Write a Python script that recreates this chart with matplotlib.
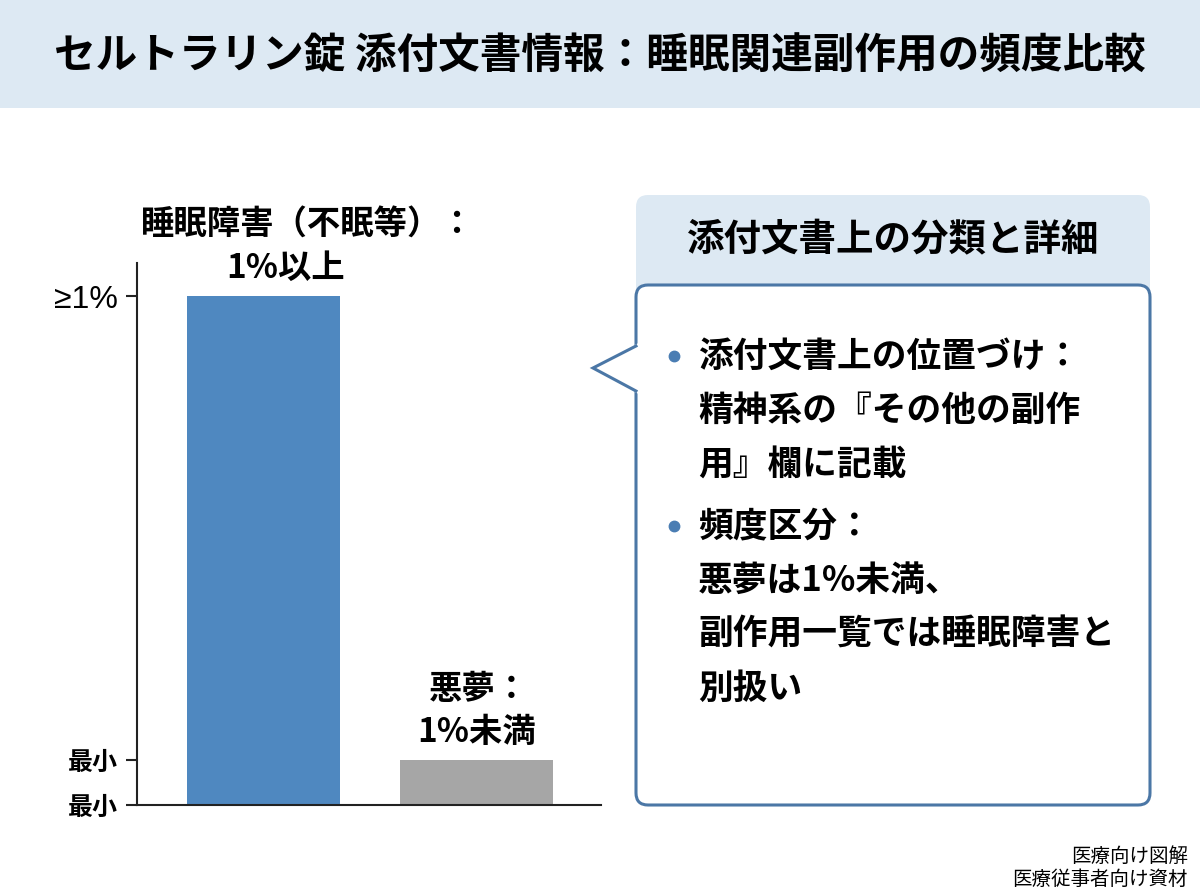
import matplotlib
matplotlib.use('Agg')
import matplotlib.pyplot as plt
from matplotlib.patches import FancyBboxPatch, Rectangle, Polygon

plt.rcParams['font.family'] = ['Noto Sans CJK JP', 'DejaVu Sans']

# --- data (schematic frequency levels) ---
categories = ['睡眠障害（不眠等）', '悪夢']
freq_level = [1.0, 0.088]
label_top = ['睡眠障害（不眠等）：', '悪夢：']
label_bottom = ['1%以上', '1%未満']
ytick_values = [0, 0.088, 1.0]
ytick_labels = ['最小', '最小', '≥1%']

title = 'セルトラリン錠 添付文書情報：睡眠関連副作用の頻度比較'
panel_title = '添付文書上の分類と詳細'
panel_items = [
    ['添付文書上の位置づけ：', '精神系の『その他の副作', '用』欄に記載'],
    ['頻度区分：', '悪夢は1%未満、', '副作用一覧では睡眠障害と', '別扱い'],
]
footer = ['医療向け図解', '医療従事者向け資材']

# --- style ---
bar_colors = ['#4f88c0', '#a6a6a6']
light_blue = '#dde9f3'
border = '#4b77a6'
bullet_color = '#4a7db3'

fig = plt.figure(figsize=(12, 8.96), dpi=100)

# background layer in pixel units (y down)
bg = fig.add_axes([0, 0, 1, 1])
bg.set_xlim(0, 1200)
bg.set_ylim(896, 0)
bg.axis('off')

bg.add_patch(Rectangle((0, 0), 1200, 108, color=light_blue, lw=0))
bg.text(600, 57, title, ha='center', va='center', fontsize=30, fontweight='bold')

# right panel
bg.add_patch(FancyBboxPatch((636, 195), 514, 120, boxstyle='round,pad=0,rounding_size=12',
                            fc=light_blue, ec='none'))
bg.text(893, 240, panel_title, ha='center', va='center', fontsize=27, fontweight='bold')
bg.add_patch(FancyBboxPatch((636, 285), 514, 520, boxstyle='round,pad=0,rounding_size=12',
                            fc='white', ec=border, lw=2.2, zorder=2))
bg.add_patch(Polygon([(638.5, 343), (593, 368), (638.5, 394)], closed=True,
                     fc='white', ec='none', zorder=3))
bg.plot([636, 593, 636], [346, 368, 391], color=border, lw=2.2,
        solid_joinstyle='miter', zorder=4)

y = 356
for item in panel_items:
    bg.plot(674, y, 'o', ms=7.5, color=bullet_color, zorder=5)
    for line in item:
        bg.text(698, y, line, ha='left', va='center', fontsize=25,
                fontweight='bold', zorder=5)
        y += 54
    y += 8

bg.text(1188, 856, footer[0], ha='right', va='center', fontsize=14)
bg.text(1188, 879, footer[1], ha='right', va='center', fontsize=14)

# bar chart
ax = fig.add_axes([137 / 1200, 91 / 896, 464 / 1200, 542 / 896])
ax.patch.set_alpha(0)
x = list(range(len(categories)))
ax.bar(x, freq_level, width=0.718, color=bar_colors)
ax.set_xlim(-0.594, 1.585)
ax.set_ylim(0, 1.065)

for s in ['top', 'right']:
    ax.spines[s].set_visible(False)
for s in ['left', 'bottom']:
    ax.spines[s].set_linewidth(1.5)
    ax.spines[s].set_color('#222222')

ax.set_xticks([])
ax.set_yticks(ytick_values)
ax.set_yticklabels(ytick_labels, fontsize=18, fontweight='bold')
ax.tick_params(axis='y', length=8, width=1.5, pad=6, color='#222222')
# the percentage tick reads like a plain sans face in the reference
for t in ax.get_yticklabels():
    if '%' in t.get_text():
        t.set_family(['Liberation Sans', 'DejaVu Sans'])
        t.set_fontweight('normal')
        t.set_fontsize(23)

top_dx = [32, 2]
bottom_dx = [16, 0]
for i, v in enumerate(freq_level):
    ax.annotate(label_top[i], xy=(i, v), xytext=(top_dx[i], 51), textcoords='offset points',
                ha='center', va='center', fontsize=24, fontweight='bold')
    ax.annotate(label_bottom[i], xy=(i, v), xytext=(bottom_dx[i], 20), textcoords='offset points',
                ha='center', va='center', fontsize=24, fontweight='bold')

fig.savefig('out.png', dpi=100)
